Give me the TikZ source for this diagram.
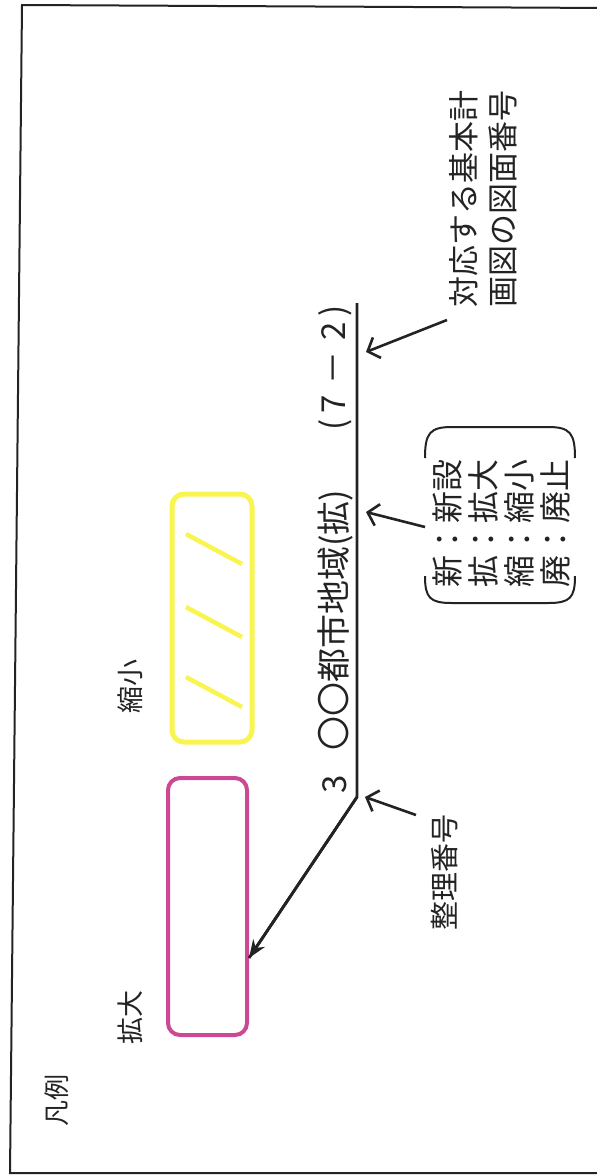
\documentclass[tikz,border=0pt]{standalone}
\usepackage{fontspec}
\setmainfont{Noto Sans CJK JP}
\usetikzlibrary{arrows.meta}
\definecolor{magbox}{RGB}{204,72,146}
\definecolor{yelbox}{RGB}{248,244,80}
\definecolor{ink}{RGB}{35,35,35}
\begin{document}
\begin{tikzpicture}[x=1pt,y=-1pt,
  vlab/.style={rotate=90,inner sep=0pt,text=ink},
  mainline/.style={draw=ink,line width=2.8pt,line join=miter},
  openarr/.style={draw=ink,line width=2.6pt,-{Straight Barb[length=10pt,width=22pt,line width=2.6pt]}},
  fillarr/.style={draw=ink,line width=2.8pt,-{Stealth[length=18pt,width=14pt]}},
  legendbox/.style={line width=4pt,rounded corners=12pt},
  bracket/.style={draw=ink,line width=2pt}
]
\useasboundingbox (0,0) rectangle (597,1176);
% frame
\draw[ink,line width=2pt] (610,8) -- (22,5) -- (10,1173) -- (610,1173);
% legend heading and labels
\node[vlab,font=\fontsize{26}{28}\selectfont] (hanrei) at (57,1100) {凡例};
\node[vlab,font=\fontsize{27}{29}\selectfont] (kakudai) at (130,1017) {拡大};
\node[vlab,font=\fontsize{27}{29}\selectfont] (shukusho) at (130,686) {縮小};
% boxes
\draw[legendbox,draw=magbox] (168,778) rectangle (247,1035);
\draw[legendbox,draw=yelbox,line width=5pt] (172,494) rectangle (252,742);
\foreach \c in {549,622,692}{
  \draw[yelbox,line width=4.5pt] (186,\c-15) -- (242,\c+15);
}
% main line text
\node[vlab,font=\fontsize{33}{35}\selectfont] (num) at (335,784) {3};
\node[vlab,font=\fontsize{34}{36}\selectfont] (name) at (335,620) {〇〇都市地域(拡)};
\node[vlab,font=\fontsize{33}{35}\selectfont] (zu) at (335,368) {(\,7\,\,－\,\,2\,)};
% main line
\coordinate (ltop) at (357,303);
\coordinate (lbend) at (357,797);
\coordinate (ltip) at (249,958);
\draw[mainline] (ltop) -- (lbend) -- (ltip);
\draw[fillarr] (lbend) -- (ltip);
% right side texts
\node[vlab,align=left,font=\fontsize{31}{39}\selectfont] (ref) at (483,199) {対応する基本計\\画図の図面番号};
\node[vlab,align=left,font=\fontsize{32}{36}\selectfont] (legend) at (501,523) {新：新設\\拡：拡大\\縮：縮小\\廃：廃止};
\node[vlab,font=\fontsize{29}{31}\selectfont] (seiri) at (445,872) {整理番号};
% brackets around legend
\draw[bracket] (425,458) .. controls (425,433) and (430,427) .. (452,427) -- (548,427) .. controls (570,427) and (575,433) .. (575,458);
\draw[bracket] (425,576) .. controls (425,598) and (430,603) .. (452,603) -- (548,603) .. controls (570,603) and (575,598) .. (575,576);
% arrows
\coordinate (s1) at (447,320);
\coordinate (t1) at (366,352);
\coordinate (s2) at (425,527);
\coordinate (t2) at (366,512);
\coordinate (s3) at (416,815);
\coordinate (t3) at (365,797);
\draw[openarr] (s1) -- (t1);
\draw[openarr] (s2) -- (t2);
\draw[openarr] (s3) -- (t3);
\end{tikzpicture}
\end{document}
